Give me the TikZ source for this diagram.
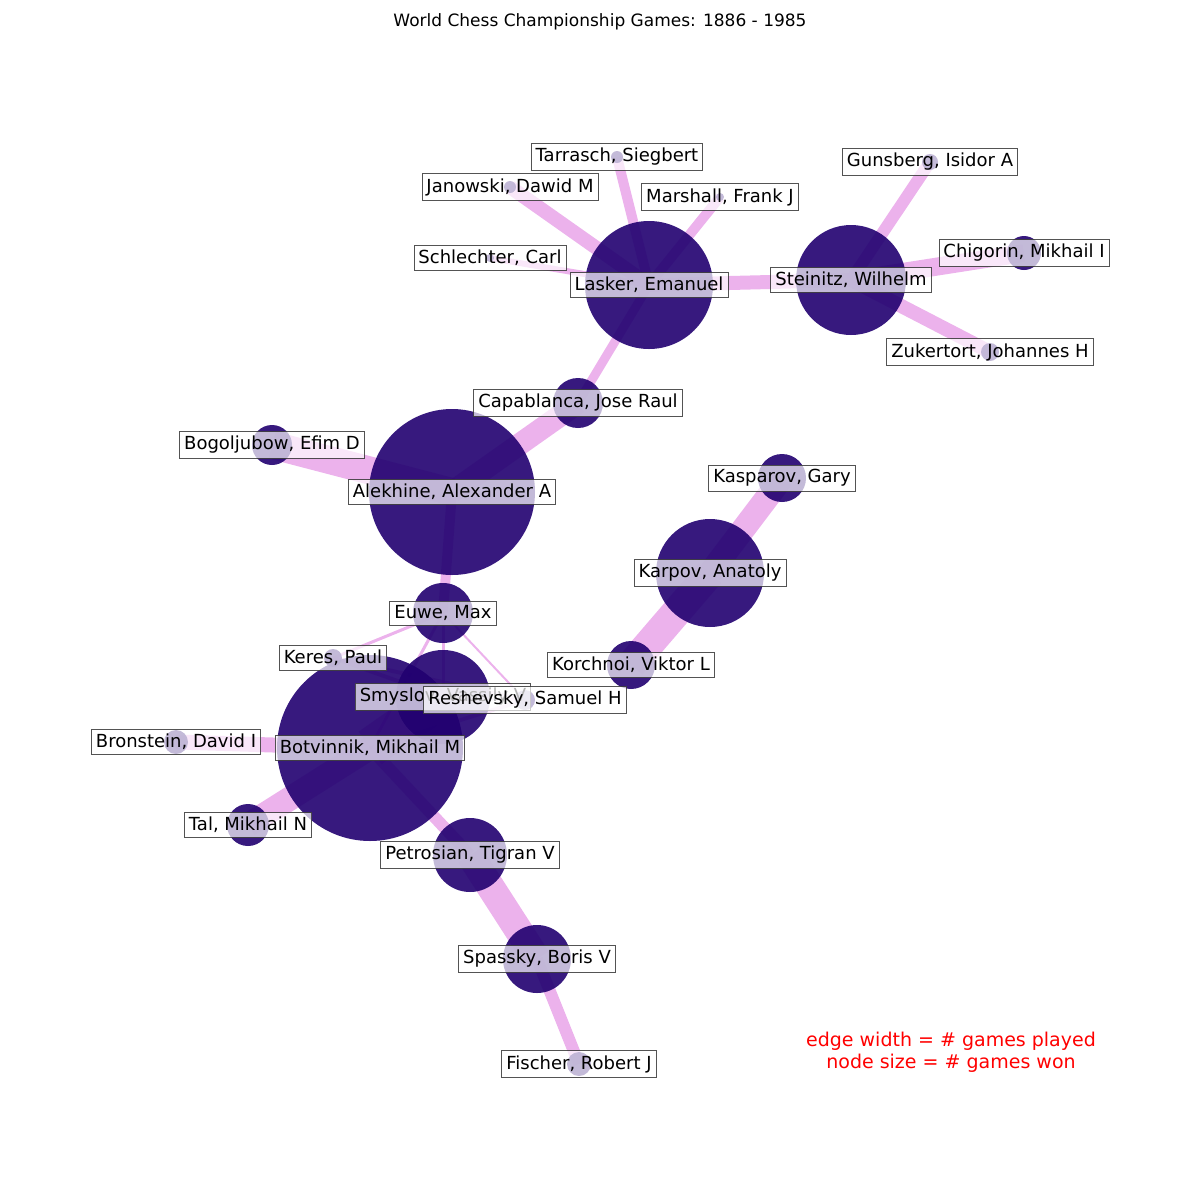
\documentclass[tikz,border=0pt]{standalone}
\usepackage{fontspec}
\setmainfont{DejaVu Sans}
\definecolor{player}{RGB}{33,0,112}
\definecolor{gamecol}{RGB}{191,0,191}
\tikzset{
  player/.style={circle, fill=player, fill opacity=0.9, inner sep=0pt, minimum size=#1},
  game/.style={gamecol, opacity=0.3, line width=#1},
  namebox/.style={fill=white, fill opacity=0.7, text opacity=1, draw=black!75,
    draw opacity=0.9, line width=0.8pt, inner sep=4.5pt,
    font=\fontsize{18}{20}\selectfont}
}
\begin{document}
\begin{tikzpicture}[x=1pt, y=-1pt]
\useasboundingbox (0,0) rectangle (1200,1200);
\node[font=\fontsize{17}{19}\selectfont] (title) at (600,22) {World Chess Championship Games: 1886 - 1985};

% player positions
\coordinate (lasker) at (649,285);
\coordinate (steinitz) at (851,280);
\coordinate (tarrasch) at (617,157);
\coordinate (janowski) at (510,187);
\coordinate (marshall) at (720,197);
\coordinate (schlechter) at (490,258);
\coordinate (gunsberg) at (930,162);
\coordinate (chigorin) at (1024,253);
\coordinate (zukertort) at (990,352);
\coordinate (capablanca) at (578,403);
\coordinate (alekhine) at (452,492);
\coordinate (bogoljubow) at (272,445);
\coordinate (euwe) at (443,613);
\coordinate (keres) at (333,658);
\coordinate (smyslov) at (443,697);
\coordinate (botvinnik) at (370,748);
\coordinate (reshevsky) at (525,700);
\coordinate (bronstein) at (176,742);
\coordinate (tal) at (248,825);
\coordinate (petrosian) at (470,855);
\coordinate (spassky) at (537,959);
\coordinate (fischer) at (579,1064);
\coordinate (karpov) at (710,573);
\coordinate (kasparov) at (782,478);
\coordinate (korchnoi) at (631,665);

% games
\draw[game=14] (lasker) -- (steinitz);
\draw[game=10] (lasker) -- (tarrasch);
\draw[game=14] (lasker) -- (janowski);
\draw[game=10] (lasker) -- (marshall);
\draw[game=6] (lasker) -- (schlechter);
\draw[game=9] (lasker) -- (capablanca);
\draw[game=12] (steinitz) -- (gunsberg);
\draw[game=18] (steinitz) -- (chigorin);
\draw[game=14] (steinitz) -- (zukertort);
\draw[game=22] (capablanca) -- (alekhine);
\draw[game=28] (alekhine) -- (bogoljubow);
\draw[game=10] (alekhine) -- (euwe);
\draw[game=3] (euwe) -- (keres);
\draw[game=2] (euwe) -- (reshevsky);
\draw[game=3] (euwe) -- (smyslov);
\draw[game=3] (euwe) -- (botvinnik);
\draw[game=4] (keres) -- (reshevsky);
\draw[game=4] (keres) -- (smyslov);
\draw[game=3] (smyslov) -- (reshevsky);
\draw[game=4] (botvinnik) -- (reshevsky);
\draw[game=40] (botvinnik) -- (smyslov);
\draw[game=15] (botvinnik) -- (bronstein);
\draw[game=24] (botvinnik) -- (tal);
\draw[game=12] (botvinnik) -- (petrosian);
\draw[game=28] (petrosian) -- (spassky);
\draw[game=12] (spassky) -- (fischer);
\draw[game=24] (karpov) -- (kasparov);
\draw[game=30] (karpov) -- (korchnoi);

% players
\node[player=128] at (lasker) {};
\node[player=110] at (steinitz) {};
\node[player=12] at (tarrasch) {};
\node[player=12] at (janowski) {};
\node[player=8] at (marshall) {};
\node[player=8] at (schlechter) {};
\node[player=16] at (gunsberg) {};
\node[player=34] at (chigorin) {};
\node[player=18] at (zukertort) {};
\node[player=50] at (capablanca) {};
\node[player=166] at (alekhine) {};
\node[player=40] at (bogoljubow) {};
\node[player=60] at (euwe) {};
\node[player=18] at (keres) {};
\node[player=94] at (smyslov) {};
\node[player=186] at (botvinnik) {};
\node[player=20] at (reshevsky) {};
\node[player=24] at (bronstein) {};
\node[player=42] at (tal) {};
\node[player=74] at (petrosian) {};
\node[player=68] at (spassky) {};
\node[player=24] at (fischer) {};
\node[player=108] at (karpov) {};
\node[player=48] at (kasparov) {};
\node[player=48] at (korchnoi) {};

% names
\node[namebox] at (lasker) {Lasker, Emanuel};
\node[namebox] at (steinitz) {Steinitz, Wilhelm};
\node[namebox] at (tarrasch) {Tarrasch, Siegbert};
\node[namebox] at (janowski) {Janowski, Dawid M};
\node[namebox] at (marshall) {Marshall, Frank J};
\node[namebox] at (schlechter) {Schlechter, Carl};
\node[namebox] at (gunsberg) {Gunsberg, Isidor A};
\node[namebox] at (chigorin) {Chigorin, Mikhail I};
\node[namebox] at (zukertort) {Zukertort, Johannes H};
\node[namebox] at (capablanca) {Capablanca, Jose Raul};
\node[namebox] at (alekhine) {Alekhine, Alexander A};
\node[namebox] at (bogoljubow) {Bogoljubow, Efim D};
\node[namebox] at (euwe) {Euwe, Max};
\node[namebox] at (keres) {Keres, Paul};
\node[namebox] at (smyslov) {Smyslov, Vassily V};
\node[namebox] at (reshevsky) {Reshevsky, Samuel H};
\node[namebox] at (botvinnik) {Botvinnik, Mikhail M};
\node[namebox] at (bronstein) {Bronstein, David I};
\node[namebox] at (tal) {Tal, Mikhail N};
\node[namebox] at (petrosian) {Petrosian, Tigran V};
\node[namebox] at (spassky) {Spassky, Boris V};
\node[namebox] at (fischer) {Fischer, Robert J};
\node[namebox] at (karpov) {Karpov, Anatoly};
\node[namebox] at (kasparov) {Kasparov, Gary};
\node[namebox] at (korchnoi) {Korchnoi, Viktor L};

\node[red, align=center, font=\fontsize{19}{22}\selectfont] (legend) at (951,1052)
  {edge width = \# games played\\node size = \# games won};
\end{tikzpicture}
\end{document}
